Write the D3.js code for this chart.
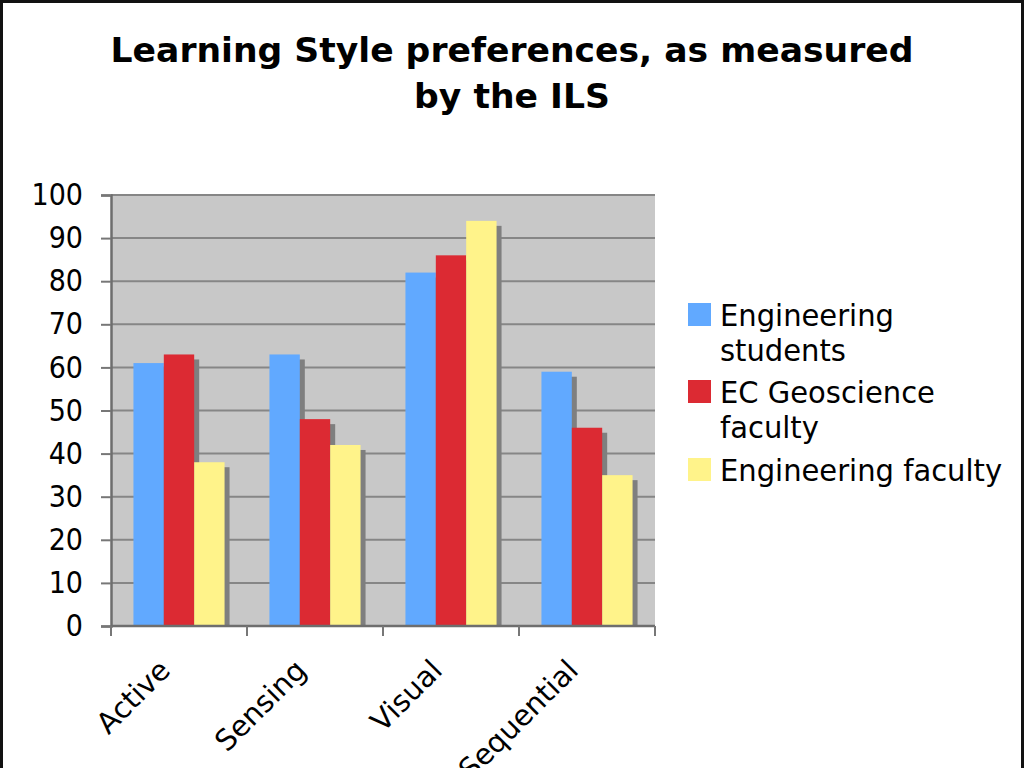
<!DOCTYPE html>
<html>
<head>
<meta charset="utf-8">
<script src="https://cdn.jsdelivr.net/npm/d3@7"></script>
<style>
  body { margin: 0; background: #fff; }
  svg { display: block; font-family: "DejaVu Sans", Verdana, sans-serif; }
</style>
</head>
<body>
<svg id="chart" width="1024" height="768"></svg>
<script>
// data
var categories = ['Active', 'Sensing', 'Visual', 'Sequential'];
var series = ['Engineering students', 'EC Geoscience faculty', 'Engineering faculty'];
var legend_lines = [['Engineering', 'students'], ['EC Geoscience', 'faculty'], ['Engineering faculty']];
var students = [61, 63, 82, 59];
var geo_faculty = [63, 48, 86, 46];
var eng_faculty = [38, 42, 94, 35];
var y_ticks = [0, 10, 20, 30, 40, 50, 60, 70, 80, 90, 100];
var colors = ['#61a9ff', '#dc2a33', '#fff38a'];

var values = [students, geo_faculty, eng_faculty];

var svg = d3.select('#chart');
var margin = { top: 195, left: 111, right: 369, bottom: 142 };
var width = 1024, height = 768;
var inner_width = width - margin.left - margin.right;
var inner_height = height - margin.top - margin.bottom;

// outer frame
svg.append('rect')
     .attr('x', 1.5).attr('y', 1.5)
     .attr('width', width - 3).attr('height', height + 10)
     .attr('fill', '#fff')
     .attr('stroke', '#111')
     .attr('stroke-width', 3);

// title
var title = svg.append('text')
     .attr('text-anchor', 'middle')
     .style('font-weight', 'bold')
     .style('font-size', '34.6px')
     .attr('fill', '#000');
title.append('tspan').attr('x', 512).attr('y', 62).text('Learning Style preferences, as measured');
title.append('tspan').attr('x', 512).attr('y', 108).text('by the ILS');

var g = svg.append('g')
     .attr('transform', 'translate(' + margin.left + ',' + margin.top + ')');

var x_scale = d3.scaleBand()
     .domain(categories)
     .range([0, inner_width])
     .paddingInner(0.33)
     .paddingOuter(0.165);

var x1_scale = d3.scaleBand()
     .domain(series)
     .range([0, x_scale.bandwidth()]);

var y_scale = d3.scaleLinear()
     .domain([0, 100])
     .range([inner_height, 0]);

// plot area
g.append('rect')
     .attr('width', inner_width)
     .attr('height', inner_height)
     .attr('fill', '#c8c8c8');

g.append('g').selectAll('line')
     .data(y_ticks.slice(1))
     .enter()
     .append('line')
     .attr('x1', 0).attr('x2', inner_width)
     .attr('y1', d => y_scale(d)).attr('y2', d => y_scale(d))
     .attr('stroke', '#868686')
     .attr('stroke-width', 2);

// shadows behind the bars
var shadow_g = g.append('g');
var bar_g = g.append('g');
series.forEach(function (s, si) {
     shadow_g.selectAll('.sh' + si)
          .data(values[si])
          .enter()
          .append('rect')
          .attr('x', (d, i) => x_scale(categories[i]) + x1_scale(s) + 5)
          .attr('y', d => y_scale(d) + 5)
          .attr('width', x1_scale.bandwidth())
          .attr('height', d => inner_height - y_scale(d) - 5)
          .attr('fill', '#7f7f7f');
});
series.forEach(function (s, si) {
     bar_g.selectAll('.b' + si)
          .data(values[si])
          .enter()
          .append('rect')
          .attr('x', (d, i) => x_scale(categories[i]) + x1_scale(s))
          .attr('y', d => y_scale(d))
          .attr('width', x1_scale.bandwidth())
          .attr('height', d => inner_height - y_scale(d))
          .attr('fill', colors[si]);
});

// y axis
var y_axis = d3.axisLeft(y_scale)
     .tickValues(y_ticks)
     .tickSize(10)
     .tickPadding(18);
var ya = g.append('g').call(y_axis);
ya.select('.domain').attr('stroke', '#6e6e6e').attr('stroke-width', 2.5);
ya.selectAll('.tick line').attr('stroke', '#777').attr('stroke-width', 2);
ya.selectAll('.tick text')
     .attr('fill', '#000')
     .attr('transform', 'scale(1,1.12)')
     .style('font-family', '"DejaVu Sans", Verdana, sans-serif')
     .style('font-size', '27px');

// x axis line with category boundary ticks
g.append('line')
     .attr('x1', 0).attr('x2', inner_width)
     .attr('y1', inner_height).attr('y2', inner_height)
     .attr('stroke', '#6e6e6e')
     .attr('stroke-width', 2.5);
g.append('g').selectAll('line')
     .data(d3.range(categories.length + 1))
     .enter()
     .append('line')
     .attr('x1', i => i * x_scale.step()).attr('x2', i => i * x_scale.step())
     .attr('y1', inner_height).attr('y2', inner_height + 10)
     .attr('stroke', '#777')
     .attr('stroke-width', 2);

g.append('g').selectAll('text')
     .data(categories)
     .enter()
     .append('text')
     .attr('transform', d => 'translate(' + (x_scale(d) + x_scale.bandwidth() / 2 - 7) + ',' + (inner_height + 46) + ') rotate(-45)')
     .attr('text-anchor', 'end')
     .style('font-size', '29px')
     .attr('fill', '#000')
     .text(d => d);

// legend
var legend_y = [303, 380, 458];
var legend = svg.append('g');
series.forEach(function (s, si) {
     legend.append('rect')
          .attr('x', 688).attr('y', legend_y[si])
          .attr('width', 23).attr('height', 23)
          .attr('fill', colors[si]);
     var t = legend.append('text')
          .attr('transform', 'translate(720,' + (legend_y[si] + 23) + ') scale(1,1.06)')
          .style('font-size', '29px')
          .attr('fill', '#000');
     legend_lines[si].forEach(function (line, li) {
          t.append('tspan')
               .attr('x', 0)
               .attr('y', li * 33)
               .text(line);
     });
});
</script>
</body>
</html>
